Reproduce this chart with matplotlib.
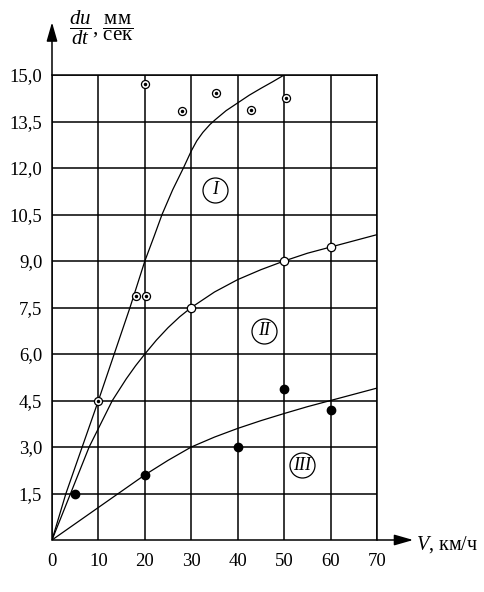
import matplotlib
matplotlib.use("Agg")
import matplotlib.pyplot as plt

plt.rcParams['font.family'] = 'Liberation Serif'
plt.rcParams['mathtext.fontset'] = 'custom'
plt.rcParams['mathtext.rm'] = 'Liberation Serif'
plt.rcParams['mathtext.it'] = 'Liberation Serif:italic'

# кривые
v1 = [0, 3, 6.5, 10, 13.4, 16.8, 20, 22, 23.7, 26, 28.3, 30, 31.2, 32.5, 34, 35.1,
      37.5, 40, 42.5, 45, 47.5, 50]
a1 = [0, 1.5, 3.0, 4.5, 6.0, 7.5, 9.0, 9.8, 10.5, 11.3, 12.0, 12.55, 12.88, 13.15, 13.4, 13.55,
      13.85, 14.1, 14.35, 14.57, 14.78, 15.0]

v2 = [0, 4, 8, 10, 13, 16, 18, 20, 22.5, 25, 27.5, 30, 35, 40, 45, 50, 55, 60, 65, 70]
a2 = [0, 1.5, 3.0, 3.6, 4.5, 5.2, 5.62, 6.0, 6.45, 6.85, 7.2, 7.5, 8.0, 8.4, 8.72, 9.0, 9.25,
      9.45, 9.65, 9.85]

v3 = [0, 10, 20, 25, 30, 35, 40, 45, 50, 55, 60, 65, 70]
a3 = [0, 1.05, 2.1, 2.57, 3.0, 3.32, 3.6, 3.85, 4.08, 4.3, 4.5, 4.7, 4.9]

# точки
pv1 = [10, 18, 20.3, 20, 27.9, 35.3, 42.9, 50.4]
pa1 = [4.5, 7.87, 7.87, 14.71, 13.85, 14.43, 13.87, 14.27]

pv2 = [30, 50, 60]
pa2 = [7.5, 9.0, 9.45]

pv3 = [5, 20, 40, 50, 60]
pa3 = [1.5, 2.1, 3.0, 4.86, 4.2]

labels = ['I', 'II', 'III']
label_v = [35.2, 45.7, 53.8]
label_a = [11.3, 6.75, 2.41]

xticks = [0, 10, 20, 30, 40, 50, 60, 70]
yticks = [1.5, 3.0, 4.5, 6.0, 7.5, 9.0, 10.5, 12.0, 13.5, 15.0]
ytick_labels = ['1,5', '3,0', '4,5', '6,0', '7,5', '9,0', '10,5', '12,0', '13,5', '15,0']

fig = plt.figure(figsize=(4.85, 5.92), dpi=100)
ax = fig.add_axes([52 / 485, 52 / 592, 325 / 485, 465 / 592])
ax.set_xlim(0, 70)
ax.set_ylim(0, 15)

ax.set_xticks(xticks)
ax.set_yticks(yticks)
ax.set_yticklabels(ytick_labels)
ax.tick_params(length=0, labelsize=13.5, colors='black')
ax.tick_params(axis='x', pad=9)
ax.tick_params(axis='y', pad=7)
ax.grid(True, color='black', lw=1.1)
ax.set_axisbelow(True)
for s in ['left', 'bottom']:
    ax.spines[s].set_visible(False)
for s in ['top', 'right']:
    ax.spines[s].set_linewidth(1.1)

# оси со стрелками
arr = dict(arrowstyle='-|>,head_length=1.15,head_width=0.33', color='black',
           lw=1.1, shrinkA=0, shrinkB=0, mutation_scale=10)
ax.annotate('', xy=(0, 16.7), xytext=(0, 0), arrowprops=arr, annotation_clip=False)
ax.annotate('', xy=(77.8, 0), xytext=(0, 0), arrowprops=arr, annotation_clip=False)

ax.plot(v1, a1, color='black', lw=0.9)
ax.plot(v2, a2, color='black', lw=0.9)
ax.plot(v3, a3, color='black', lw=0.9)

ax.plot(pv1, pa1, 'o', ms=5.8, mfc='white', mec='black', mew=0.9, clip_on=False)
ax.plot(pv1, pa1, 'o', ms=1.5, color='black', clip_on=False)
ax.plot(pv2, pa2, 'o', ms=6, mfc='white', mec='black', mew=0.9)
ax.plot(pv3, pa3, 'o', ms=6, color='black')

for t, x, y in zip(labels, label_v, label_a):
    ax.plot(x, y, 'o', ms=18, mfc='white', mec='black', mew=0.9)
    ax.text(x, y, t, ha='center', va='center', fontsize=13, style='italic')

ax.text(78.3, -0.15, r'$V$, км/ч', ha='left', va='center', fontsize=14.5,
        clip_on=False)
fig.text(69 / 485, 1 - 28 / 592, r'$\dfrac{du}{dt}$, $\dfrac{\mathrm{мм}}{\mathrm{сек}}$',
         ha='left', va='center', fontsize=15)

fig.savefig('out.png', dpi=100)
